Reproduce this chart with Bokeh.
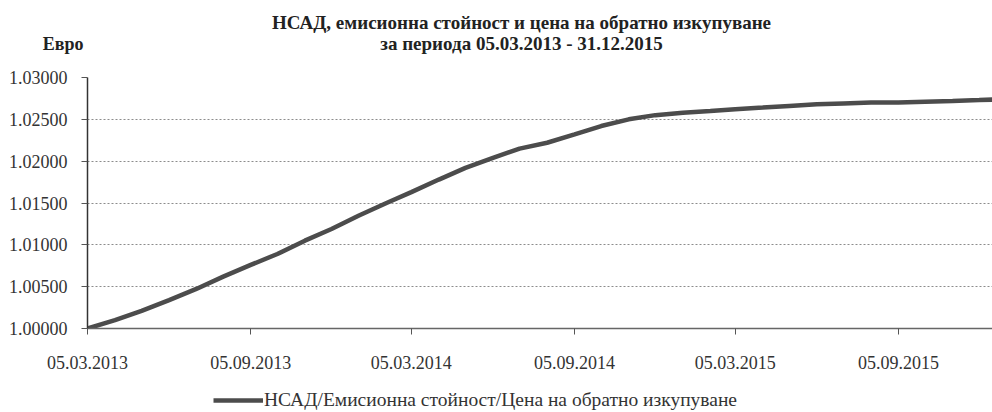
from datetime import datetime
from bokeh.plotting import figure
from bokeh.layouts import column
from bokeh.models import (FixedTicker, DatetimeTickFormatter, NumeralTickFormatter,
                          Label, Legend, LegendItem, Range1d)
from bokeh.embed import file_html
from bokeh.resources import INLINE

# ---- data ----
dates = ["2013-03-05", "2013-04-05", "2013-05-05", "2013-06-05", "2013-07-05", "2013-08-05",
         "2013-09-05", "2013-10-05", "2013-11-05", "2013-12-05", "2014-01-05", "2014-02-05",
         "2014-03-05", "2014-04-05", "2014-05-05", "2014-06-05", "2014-07-05", "2014-08-05",
         "2014-09-05", "2014-10-05", "2014-11-05", "2014-12-05", "2015-01-05", "2015-02-05",
         "2015-03-05", "2015-04-05", "2015-05-05", "2015-06-05", "2015-07-05", "2015-08-05",
         "2015-09-05", "2015-10-05", "2015-11-05", "2015-12-05", "2015-12-31"]
nav = [1.0000, 1.0010, 1.0021, 1.0034, 1.0047, 1.0062,
       1.0076, 1.0089, 1.0105, 1.0119, 1.0135, 1.0150,
       1.0163, 1.0178, 1.0192, 1.0204, 1.0215, 1.0222,
       1.0232, 1.0242, 1.0250, 1.0255, 1.0258, 1.0260,
       1.0262, 1.0264, 1.0266, 1.0268, 1.0269, 1.0270,
       1.0270, 1.0271, 1.0272, 1.0273, 1.0274]
x_ticks = ["2013-03-05", "2013-09-05", "2014-03-05", "2014-09-05", "2015-03-05", "2015-09-05"]
y_ticks = [1.000, 1.005, 1.010, 1.015, 1.020, 1.025, 1.030]
title_line1 = "НСАД, емисионна стойност и цена на обратно изкупуване"
title_line2 = "за периода 05.03.2013 - 31.12.2015"
y_unit = "Евро"
series_name = "НСАД/Емисионна стойност/Цена на обратно изкупуване"

FONT = "Liberation Serif"
LINE_COLOR = "#4c4c4c"
TEXT_COLOR = "#222222"

W = 992
LEFT = 87          # frame left edge (all figures in the column share it)
HEAD_H = 65


def to_dt(s):
    return datetime.strptime(s, "%Y-%m-%d")


def blank_fig(h, yr, y_axis=None):
    # x range in page pixels: frames of the column are aligned to LEFT..W
    f = figure(width=W, height=h, x_range=Range1d(LEFT, W), y_range=yr,
               output_backend="svg", toolbar_location=None,
               x_axis_location=None, y_axis_location=y_axis,
               min_border_left=LEFT, min_border_right=0,
               min_border_top=0, min_border_bottom=0)
    f.outline_line_color = None
    f.xgrid.grid_line_color = None
    f.ygrid.grid_line_color = None
    f.background_fill_color = "white"
    f.border_fill_color = "white"
    return f


# ---------- header: title lines and unit ----------
UNIT_ROW = 43
head = blank_fig(HEAD_H, Range1d(HEAD_H, 0), y_axis="left")
for txt, x, y in [(title_line1, 521, 22), (title_line2, 521, UNIT_ROW)]:
    head.add_layout(Label(x=x, y=y, text=txt, text_font=FONT, text_font_size="19px",
                          text_font_style="bold", text_color=TEXT_COLOR,
                          text_align="center", text_baseline="middle"))
# unit "Евро" shown as the single tick label of the header's left axis
hy = head.yaxis[0]
hy.ticker = FixedTicker(ticks=[UNIT_ROW])
hy.major_label_overrides = {UNIT_ROW: y_unit}
hy.major_label_text_font = FONT
hy.major_label_text_font_size = "18px"
hy.major_label_text_font_style = "bold"
hy.major_label_text_color = TEXT_COLOR
hy.major_label_standoff = 4
hy.major_tick_in = 0
hy.major_tick_out = 0
hy.major_tick_line_color = None
hy.minor_tick_line_color = None
hy.axis_line_color = None

# ---------- main chart ----------
xs = [to_dt(d) for d in dates]
FW, FH = W - LEFT, 251
p = figure(frame_width=FW, frame_height=FH, x_axis_type="datetime", output_backend="svg",
           toolbar_location=None, title=None,
           x_range=Range1d(to_dt("2013-03-05"), to_dt("2015-12-20")),
           y_range=Range1d(1.0, 1.03),
           min_border_left=LEFT, min_border_right=0, min_border_top=12, min_border_bottom=50)
p.outline_line_color = None
p.background_fill_color = "white"
p.border_fill_color = "white"

r = p.line(xs, nav, line_color=LINE_COLOR, line_width=4.5)

p.xaxis.ticker = FixedTicker(ticks=[to_dt(t).timestamp() * 1000 for t in x_ticks])
fmt = "%d.%m.%Y"
p.xaxis.formatter = DatetimeTickFormatter(days=fmt, months=fmt, years=fmt, hours=fmt,
                                          minutes=fmt, seconds=fmt, milliseconds=fmt,
                                          minsec=fmt, hourmin=fmt)
p.yaxis.ticker = FixedTicker(ticks=y_ticks)
p.yaxis.formatter = NumeralTickFormatter(format="0.00000")

for ax in (p.xaxis[0], p.yaxis[0]):
    ax.major_label_text_font = FONT
    ax.major_label_text_font_size = "18px"
    ax.major_label_text_color = "#333333"
    ax.minor_tick_line_color = None
    ax.major_tick_in = 0
    ax.major_tick_out = 6
    ax.major_tick_line_color = "#555555"

p.xaxis.axis_line_color = "#666666"
p.xaxis.axis_line_width = 1.5
p.xaxis.major_label_standoff = 21
p.yaxis.axis_line_color = "#333333"
p.yaxis.axis_line_width = 1.5
p.yaxis.major_label_standoff = 14

p.xgrid.grid_line_color = None
p.ygrid.grid_line_color = "#8c8c8c"
p.ygrid.grid_line_dash = "2 2"
p.ygrid.grid_line_width = 1

# ---------- footer: legend ----------
foot = blank_fig(34, Range1d(0, 1))
sample = foot.line(x=[float("nan")], y=[float("nan")], line_color=LINE_COLOR, line_width=4.5)
legend = Legend(items=[LegendItem(label=series_name, renderers=[sample])],
                orientation="horizontal", location=(213 - LEFT, 1),
                border_line_color=None, background_fill_alpha=0,
                label_text_font=FONT, label_text_font_size="19.5px",
                label_text_color="#333333", glyph_width=50, glyph_height=18,
                padding=0, margin=0, label_standoff=1)
foot.add_layout(legend, "center")

layout = column(head, p, foot, spacing=0)
open("out.html", "w").write(file_html(layout, INLINE))
